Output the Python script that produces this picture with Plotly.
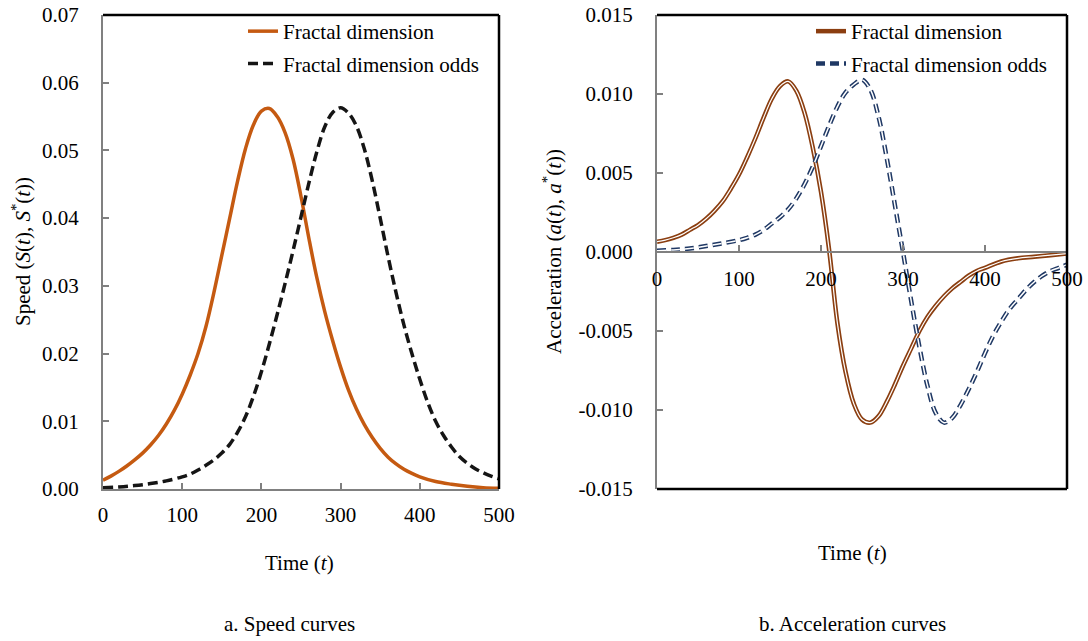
import plotly.graph_objects as go

# ---------------- data ----------------
series_names = ["Fractal dimension", "Fractal dimension odds"]

t_speed_fd = [0, 10, 20, 30, 40, 50, 60, 70, 80, 90, 100, 110, 120, 130, 140, 150, 160, 170,
              180, 190, 200, 210, 220, 230, 240, 250, 260, 270, 280, 290, 300, 310, 320,
              330, 340, 350, 360, 370, 380, 390, 400, 420, 440, 460, 480, 500]
speed_fd = [0.0013, 0.0019, 0.0026, 0.0034, 0.0043, 0.0053, 0.0065, 0.0079, 0.0096, 0.0116,
            0.0140, 0.0168, 0.0200, 0.0240, 0.0290, 0.0345, 0.0400, 0.0455, 0.0503, 0.0538,
            0.0558, 0.0562, 0.0550, 0.0526, 0.0487, 0.0432, 0.0370, 0.0312, 0.0262,
            0.0219, 0.0180, 0.0146, 0.0118, 0.0095, 0.0076, 0.0060, 0.0047, 0.0037, 0.0029,
            0.0023, 0.0018, 0.0011, 0.0007, 0.0004, 0.0002, 0.0001]

t_speed_odds = [0, 20, 40, 60, 80, 100, 110, 120, 130, 140, 150, 160, 170, 180, 190, 200, 210,
                220, 230, 240, 250, 260, 270, 280, 290, 300, 310, 320, 330, 340, 350, 360, 370,
                380, 390, 400, 410, 420, 430, 440, 450, 460, 470, 480, 490, 500]
speed_odds = [0.0002, 0.0003, 0.0005, 0.0008, 0.0012, 0.0018, 0.0022, 0.0028, 0.0035, 0.0043,
              0.0053, 0.0066, 0.0084, 0.0107, 0.0137, 0.0173, 0.0214, 0.0258, 0.0304, 0.0352,
              0.0402, 0.0452, 0.0498, 0.0535, 0.0556, 0.0563, 0.0555, 0.0536, 0.0502, 0.0455,
              0.0400, 0.0343, 0.0290, 0.0242, 0.0200, 0.0162, 0.0128, 0.0100, 0.0079, 0.0062,
              0.0048, 0.0038, 0.0030, 0.0024, 0.0019, 0.0015]

t_acc_fd = [0, 10, 20, 30, 40, 50, 60, 70, 80, 90, 100, 110, 120, 130, 140, 150, 160, 170, 180,
            190, 200, 210, 220, 230, 240, 250, 260, 270, 280, 290, 300, 310, 320, 330,
            340, 350, 360, 370, 380, 390, 400, 420, 440, 460, 480, 500]
acc_fd = [0.00065, 0.00075, 0.0009, 0.0011, 0.0014, 0.0017, 0.0021, 0.0026, 0.0032, 0.0040,
          0.0049, 0.0060, 0.0072, 0.0085, 0.0097, 0.0105, 0.0108, 0.0102, 0.0088, 0.0066,
          0.0038, 0.0001, -0.0045, -0.0076, -0.0096, -0.0106, -0.0108, -0.0104, -0.0095,
          -0.0084, -0.0072, -0.0061, -0.0050, -0.0041, -0.0034, -0.0028, -0.0023, -0.0019,
          -0.0015, -0.0012, -0.0010, -0.0006, -0.0004, -0.0003, -0.0002, -0.0001]

t_acc_odds = [0, 20, 40, 60, 80, 100, 110, 120, 130, 140, 150, 160, 170, 180, 190, 200, 210,
              220, 230, 240, 250, 260, 270, 280, 290, 300, 310, 320, 330, 340, 350,
              360, 370, 380, 390, 400, 410, 420, 430, 440, 450, 460, 470, 480, 490, 500]
acc_odds = [0.00008, 0.00013, 0.00022, 0.00038, 0.00055, 0.00075, 0.0009, 0.0011, 0.0014,
            0.0018, 0.0022, 0.0027, 0.0034, 0.0043, 0.0054, 0.0067, 0.0080, 0.0092, 0.0101,
            0.0106, 0.0109, 0.0103, 0.0086, 0.0060, 0.0030, 0.0000, -0.0031, -0.0060,
            -0.0085, -0.0102, -0.0108, -0.0105, -0.0097, -0.0087, -0.0076, -0.0064, -0.0053,
            -0.0044, -0.0036, -0.0030, -0.0024, -0.0019, -0.0015, -0.0012, -0.0010, -0.0008]

x_ticks = [0, 100, 200, 300, 400, 500]
x_ticktext = ["0", "100", "200", "300", "400", "500"]
speed_ticks = [0, 0.01, 0.02, 0.03, 0.04, 0.05, 0.06, 0.07]
speed_ticktext = ["0.00", "0.01", "0.02", "0.03", "0.04", "0.05", "0.06", "0.07"]
acc_ticks = [-0.015, -0.010, -0.005, 0.0, 0.005, 0.010, 0.015]
acc_ticktext = ["-0.015", "-0.010", "-0.005", "0.000", "0.005", "0.010", "0.015"]

# ---------------- styling ----------------
W, H = 1088, 641
FONT = "Liberation Serif, Times New Roman, serif"
FS = 21
ORANGE = "#C55A11"
BROWN = "#8B3E10"
NAVY = "#1F3864"
GREY = "#808080"


def px(x):
    return x / W


def py(y):
    return 1 - y / H


y_dom = [py(489), py(15)]
x1_dom = [px(103), px(499)]
x2_dom = [px(657), px(1067)]

fig = go.Figure()

SPL = dict(shape="spline", smoothing=1.0)

# Left panel: speed
fig.add_trace(go.Scatter(x=t_speed_fd, y=speed_fd, mode="lines", name=series_names[0],
                         line=dict(color=ORANGE, width=3.5, **SPL),
                         xaxis="x", yaxis="y", legend="legend", legendgroup="a1"))
fig.add_trace(go.Scatter(x=t_speed_odds, y=speed_odds, mode="lines", name=series_names[1],
                         line=dict(color="#151515", width=3.5, dash="10px,5px", **SPL),
                         xaxis="x", yaxis="y", legend="legend", legendgroup="a2"))

# Right panel: acceleration (double lines: coloured outer + thin white core)
fig.add_trace(go.Scatter(x=t_acc_fd, y=acc_fd, mode="lines", name=series_names[0],
                         line=dict(color=BROWN, width=4.5, **SPL),
                         xaxis="x2", yaxis="y2", legend="legend2", legendgroup="b1"))
fig.add_trace(go.Scatter(x=t_acc_fd, y=acc_fd, mode="lines", showlegend=False,
                         line=dict(color="white", width=1.2, **SPL),
                         xaxis="x2", yaxis="y2", legendgroup="b1", hoverinfo="skip"))
fig.add_trace(go.Scatter(x=t_acc_odds, y=acc_odds, mode="lines", name=series_names[1],
                         line=dict(color=NAVY, width=4.5, dash="9px,5px", **SPL),
                         xaxis="x2", yaxis="y2", legend="legend2", legendgroup="b2"))
fig.add_trace(go.Scatter(x=t_acc_odds, y=acc_odds, mode="lines", showlegend=False,
                         line=dict(color="white", width=1.5, dash="9px,5px", **SPL),
                         xaxis="x2", yaxis="y2", legendgroup="b2", hoverinfo="skip"))

tickfont = dict(family=FONT, size=FS, color="black")
common = dict(showgrid=False, zeroline=False, showline=True, linecolor=GREY, linewidth=2,
              ticks="inside", ticklen=6, tickwidth=1.5, tickcolor=GREY, tickfont=tickfont,
              automargin=False, ticklabeloverflow="allow")

legend_common = dict(xanchor="left", yanchor="top", bgcolor="rgba(0,0,0,0)",
                     font=dict(family=FONT, size=FS, color="black"), tracegroupgap=2,
                     traceorder="grouped")

fig.update_layout(
    width=W, height=H, margin=dict(l=0, r=0, t=0, b=0, autoexpand=False),
    paper_bgcolor="white", plot_bgcolor="white",
    font=dict(family=FONT, size=FS, color="black"),
    xaxis=dict(domain=x1_dom, range=[0, 500], anchor="y", tickvals=x_ticks,
               ticktext=x_ticktext, ticklabelstandoff=6, **common),
    yaxis=dict(domain=y_dom, range=[0, 0.07], anchor="x", tickvals=speed_ticks,
               ticktext=speed_ticktext, ticklabelstandoff=18, **common),
    xaxis2=dict(domain=x2_dom, range=[0, 500], anchor="free",
                position=(y_dom[0] + y_dom[1]) / 2, tickvals=x_ticks, ticktext=x_ticktext,
                ticklabelstandoff=8, **common),
    yaxis2=dict(domain=y_dom, range=[-0.015, 0.015], anchor="x2", tickvals=acc_ticks,
                ticktext=acc_ticktext, ticklabelstandoff=18, **common),
    legend=dict(x=px(243), y=py(11), **legend_common),
    legend2=dict(x=px(811), y=py(11), **legend_common),
    showlegend=True,
)

# Black frame lines (top/right on left panel; top/right/bottom on right panel)
frame = dict(color="black", width=2.5)
for xr, yr, lines in [("x domain", "y domain", [(0, 1, 1, 1), (1, 0, 1, 1)]),
                      ("x2 domain", "y2 domain", [(0, 1, 1, 1), (1, 0, 1, 1), (0, 0, 1, 0)])]:
    for x0, y0, x1, y1 in lines:
        fig.add_shape(type="line", xref=xr, yref=yr, x0=x0, y0=y0, x1=x1, y1=y1, line=frame,
                      layer="above")

# Titles and captions
ann = [
    ("Speed (<i>S</i>(<i>t</i>), <i>S</i><sup>*</sup>(<i>t</i>))", 22, 252, -90),
    ("Time (<i>t</i>)", 299, 563, 0),
    ("a. Speed curves", 289, 624, 0),
    ("Acceleration (<i>a</i>(<i>t</i>), <i>a</i><sup>*</sup>(<i>t</i>))", 553, 252, -90),
    ("Time (<i>t</i>)", 852, 553, 0),
    ("b. Acceleration curves", 852, 624, 0),
]
for text, x, y, ang in ann:
    fig.add_annotation(text=text, x=px(x), y=py(y), xref="paper", yref="paper",
                       showarrow=False, textangle=ang, xanchor="center", yanchor="middle",
                       font=dict(family=FONT, size=FS, color="black"))

# remove the browser's default 8px body margin so the figure sits at the page origin
fig.write_html("out.html", config={"displayModeBar": False},
               post_script="document.body.style.margin='0';")
